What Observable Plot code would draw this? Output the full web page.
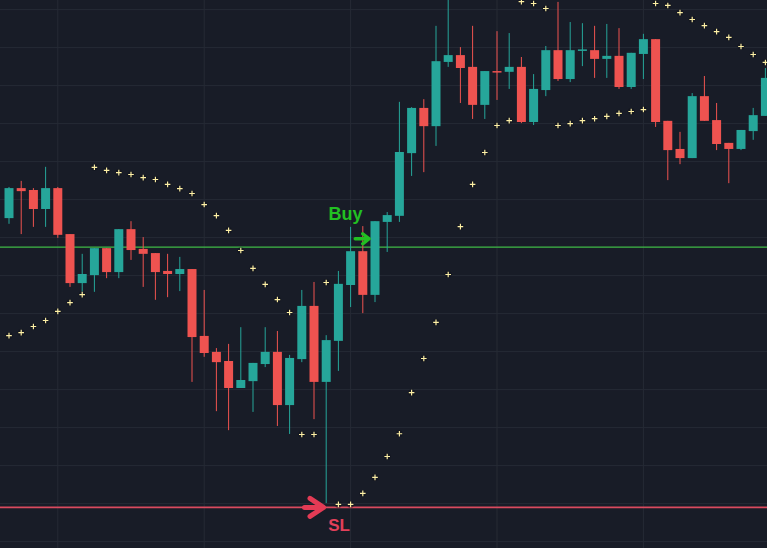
<!DOCTYPE html>
<html>
<head>
<meta charset="utf-8">
<script src="https://cdn.jsdelivr.net/npm/d3@7"></script>
<script src="https://cdn.jsdelivr.net/npm/@observablehq/plot@0.6"></script>
<style>
  html, body { margin: 0; padding: 0; background: #181c27; overflow: hidden; }
  #chart svg { display: block; }
</style>
</head>
<body>
<div id="chart"></div>
<script>
// ---- data (price units; grid every 10) ----
const opens = [
  145.0, 152.9, 152.4, 147.4, 152.9, 140.8, 127.9, 130.0, 137.1, 130.8,
  142.1, 136.9, 135.8, 131.1, 130.3, 131.6, 114.0, 109.8, 107.4, 100.3,
  102.1, 106.6, 109.8, 95.8, 107.9, 121.9, 101.9, 112.7, 127.4, 136.3,
  124.8, 144.0, 145.6, 162.1, 174.0, 169.2, 186.1, 187.9, 184.8, 174.8,
  183.7, 183.5, 184.8, 170.3, 178.7, 189.2, 181.6, 189.0, 189.2, 186.9,
  187.7, 179.5, 188.2, 192.1, 170.6, 163.2, 160.8, 177.1, 170.8, 164.8,
  163.2, 167.9, 171.9
];
const closes = [
  152.9, 152.1, 147.4, 152.9, 140.6, 127.9, 130.3, 137.1, 130.8, 142.1,
  136.6, 135.6, 130.8, 130.3, 131.6, 113.7, 109.5, 107.1, 100.3, 102.4,
  106.9, 109.8, 95.8, 108.2, 121.9, 101.9, 112.9, 127.7, 136.3, 124.8,
  144.2, 145.8, 162.4, 174.0, 169.2, 186.3, 187.9, 184.5, 174.8, 183.7,
  183.3, 184.8, 170.3, 179.0, 189.2, 181.6, 189.2, 189.4, 186.9, 187.7,
  179.5, 188.5, 192.1, 170.3, 162.9, 160.8, 177.1, 170.6, 164.5, 163.2,
  168.2, 172.1, 181.9
];
const highs = [
  153.2, 154.8, 152.9, 158.5, 153.2, 140.8, 135.6, 137.1, 137.1, 142.1,
  144.2, 140.0, 135.8, 135.6, 134.8, 131.6, 126.1, 110.8, 111.9, 116.3,
  106.9, 116.3, 115.3, 109.0, 126.1, 128.2, 114.2, 131.1, 142.7, 142.9,
  144.2, 146.6, 175.6, 174.2, 176.3, 195.6, 204.0, 190.0, 195.6, 183.7,
  194.2, 193.7, 187.4, 182.9, 190.3, 201.9, 196.6, 196.3, 195.6, 196.1,
  195.0, 188.5, 193.5, 192.1, 170.6, 167.7, 177.9, 182.4, 175.3, 164.8,
  168.2, 174.0, 184.5
];
const lows = [
  143.5, 140.8, 142.7, 142.7, 139.8, 126.9, 125.6, 125.6, 129.2, 129.2,
  134.0, 126.9, 123.5, 124.2, 125.8, 101.9, 108.5, 94.2, 89.2, 100.3,
  94.0, 105.8, 90.3, 88.2, 107.1, 92.1, 70.0, 104.8, 121.6, 120.0,
  122.9, 136.1, 144.0, 156.1, 157.1, 164.0, 184.8, 175.3, 171.1, 171.1,
  176.1, 179.0, 170.0, 169.5, 177.1, 181.1, 180.8, 185.0, 181.9, 181.9,
  179.0, 179.0, 181.6, 169.0, 155.0, 159.2, 160.8, 170.6, 162.9, 154.2,
  162.9, 165.6, 171.9
];
// Parabolic SAR
const sar = [
  114.2, 115.0, 116.6, 118.2, 120.6, 122.9, 125.0, 158.5, 157.7, 157.1,
  156.6, 155.8, 155.3, 154.0, 152.9, 151.6, 148.7, 145.8, 141.9, 136.6,
  131.9, 127.7, 123.7, 120.3, 88.2, 88.2, 128.2, 69.8, 69.8, 72.7,
  76.9, 82.4, 88.4, 99.2, 108.2, 117.7, 130.3, 142.9, 154.0, 162.4,
  169.5, 170.8, 202.1, 201.6, 200.3, 169.5, 170.0, 170.8, 171.3, 171.9,
  172.7, 173.2, 173.7, 201.6, 201.1, 199.2, 197.4, 195.8, 194.2, 192.7,
  190.3, 188.2, 186.1
];
const entryPrice = 137.5;
const stopPrice = 69.0;
const gridPrices = [200, 190, 180, 170, 160, 150, 140, 130, 120, 110, 100, 90, 80, 70, 60];
const gridBars = [4, 16, 28, 40, 52];
const labels = [
  {bar: 27.58, price: 146.2, text: "Buy", color: "#22c022", size: 18},
  {bar: 27.05, price: 64.3, text: "SL", color: "#e2405a", size: 17}
];
const buyArrow = [{bar: 28.95, price: 139.7}];
const slArrow = [{bar: 25.0, price: 69.0}];

// ---- styling ----
const BG = "#181c27", GRID = "#262a35", UP = "#26a69a", DOWN = "#ef5350";

const bars = d3.range(opens.length).map(i => ({
  i, open: opens[i], close: closes[i], high: highs[i], low: lows[i], sar: sar[i]
}));
const isUp = d => d.close >= d.open;

function arrowSymbol(head, wing) {
  return {
    draw(ctx, size) {
      const r = Math.sqrt(size / Math.PI);
      ctx.moveTo(-r, 0); ctx.lineTo(r, 0);
      ctx.moveTo(r * head, -r * wing); ctx.lineTo(r, 0); ctx.lineTo(r * head, r * wing);
    }
  };
}

const chart = Plot.plot({
  width: 767,
  height: 548,
  margin: 0,
  style: {background: BG, overflow: "hidden"},
  x: {type: "linear", domain: [-0.697, 62.172], axis: null},
  y: {domain: [58.19, 202.4], axis: null},
  marks: [
    Plot.ruleY(gridPrices, {y: d => d, stroke: GRID, strokeWidth: 1}),
    Plot.ruleX(gridBars, {x: d => d, stroke: GRID, strokeWidth: 1}),
    Plot.ruleY([entryPrice], {y: d => d, stroke: "#3fba47", strokeWidth: 1.3}),
    Plot.ruleY([stopPrice], {y: d => d, stroke: "#d94a5f", strokeWidth: 1.6}),
    // wicks
    Plot.ruleX(bars, {filter: isUp, x: "i", y1: "low", y2: "high", stroke: UP, strokeWidth: 1}),
    Plot.ruleX(bars, {filter: d => !isUp(d), x: "i", y1: "low", y2: "high", stroke: DOWN, strokeWidth: 1}),
    // bodies
    Plot.ruleX(bars, {filter: isUp, x: "i", y1: "open", y2: "close", stroke: UP, strokeWidth: 9}),
    Plot.ruleX(bars, {filter: d => !isUp(d), x: "i", y1: "open", y2: "close", stroke: DOWN, strokeWidth: 9}),
    // parabolic SAR
    Plot.dot(bars, {x: "i", y: "sar", r: 3.4, fill: "#0f121a", fillOpacity: 0.5, stroke: "none"}),
    Plot.dot(bars, {x: "i", y: "sar", symbol: "plus", r: 1.95, stroke: "#fff1a6", strokeWidth: 1.15}),
    // arrows
    Plot.dot(buyArrow, {x: "bar", y: "price", symbol: arrowSymbol(0.07, 0.72), r: 7,
      fill: "none", stroke: "#22c022", strokeWidth: 3.4, strokeLinecap: "round", strokeLinejoin: "round"}),
    Plot.dot(slArrow, {x: "bar", y: "price", symbol: arrowSymbol(-0.42, 0.95), r: 9.5,
      fill: "none", stroke: "#e33b55", strokeWidth: 5, strokeLinecap: "round", strokeLinejoin: "round"}),
    // labels
    Plot.text(labels.slice(0, 1), {x: "bar", y: "price", text: "text", fill: "color",
      fontSize: 18, fontWeight: "bold", fontFamily: "Liberation Sans, Arial, sans-serif"}),
    Plot.text(labels.slice(1), {x: "bar", y: "price", text: "text", fill: "color",
      fontSize: 17, fontWeight: "bold", fontFamily: "Liberation Sans, Arial, sans-serif"})
  ]
});
document.getElementById("chart").append(chart);
</script>
</body>
</html>
